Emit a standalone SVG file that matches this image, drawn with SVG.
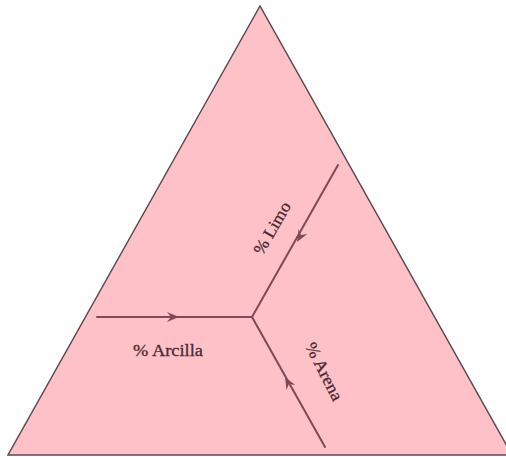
<svg xmlns="http://www.w3.org/2000/svg" width="506" height="457" viewBox="0 0 506 457">
<defs>
<style>
.tri{fill:#fec1c8;stroke:#5a4a4e;stroke-width:1.5;stroke-linejoin:miter}
.ln{stroke:#7d4a56;stroke-width:2;fill:none;stroke-linecap:round}
.ah{fill:#7d4a56}
.lbl{font-family:"Liberation Serif","DejaVu Serif",serif;font-size:17px;fill:#4a2a32;stroke:#4a2a32;stroke-width:0.3;text-anchor:middle}
</style>
<path id="arrow" class="ah" d="M0,0 L-12,-5 L-8,0 L-12,5 Z"/>
</defs>
<rect width="506" height="457" fill="#ffffff"/>
<g id="triangle">
<polygon class="tri" points="260,6 8,455 512,455"/>
</g>
<g id="connectors">
<line class="ln" x1="97" y1="317" x2="252" y2="317"/>
<line class="ln" x1="338" y1="165" x2="252" y2="317"/>
<line class="ln" x1="325" y1="447" x2="252" y2="317"/>
<use href="#arrow" transform="translate(179,317)"/>
<use href="#arrow" transform="translate(297,242) rotate(119.5)"/>
<use href="#arrow" transform="translate(285,377) rotate(240.7)"/>
</g>
<g id="label-arcilla">
<text class="lbl" x="168" y="356" textLength="70" lengthAdjust="spacingAndGlyphs">% Arcilla</text>
</g>
<g id="label-limo">
<text class="lbl" transform="translate(277,231) rotate(-60)" textLength="58" lengthAdjust="spacingAndGlyphs">% Limo</text>
</g>
<g id="label-arena">
<text class="lbl" transform="translate(319,374) rotate(63)" textLength="63" lengthAdjust="spacingAndGlyphs">% Arena</text>
</g>
</svg>
